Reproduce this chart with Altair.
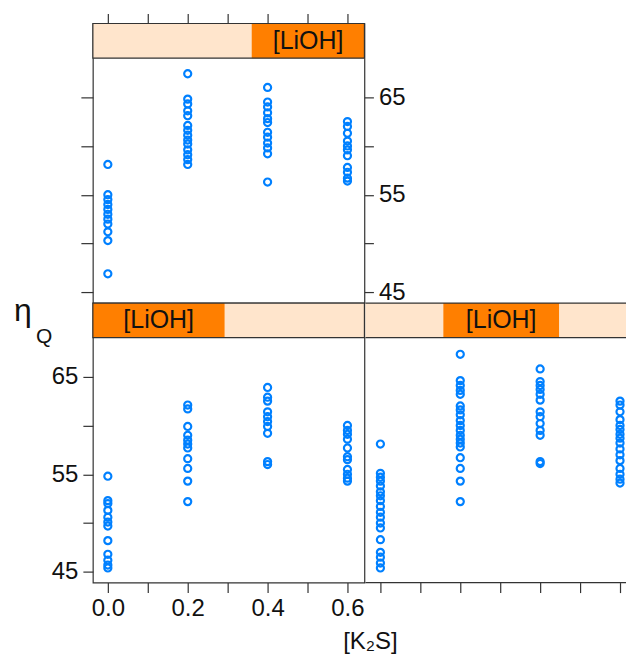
import altair as alt
import pandas as pd

# ---- data ----
k2s_levels = [0.0, 0.2, 0.4, 0.6]

# panel with the highest [LiOH] shingle (top-left)
high_k00 = [58.1, 55.0, 54.5, 54.0, 53.5, 53.0, 52.5, 52.0, 51.2, 50.3, 46.9]
high_k02 = [67.4, 64.8, 64.3, 63.6, 63.1, 62.1, 61.6, 61.1, 60.6, 60.2, 59.6, 59.1, 58.6, 58.1]
high_k04 = [66.0, 64.5, 64.0, 63.4, 62.8, 62.4, 61.4, 60.9, 60.3, 59.8, 59.2, 56.3]
high_k06 = [62.5, 62.0, 61.3, 60.5, 60.0, 59.6, 59.0, 57.8, 57.3, 56.7, 56.4]

# panel with the lowest [LiOH] shingle (bottom-left)
low_k00 = [54.8, 52.3, 52.0, 51.3, 50.6, 50.1, 49.7, 48.2, 46.8, 46.2, 45.7, 45.4]
low_k02 = [62.1, 61.7, 59.9, 59.0, 58.5, 58.1, 57.7, 56.6, 55.6, 54.3, 52.2]
low_k04 = [63.9, 62.9, 62.5, 61.4, 60.9, 60.4, 59.9, 59.2, 56.3, 56.0]
low_k06 = [60.0, 59.5, 59.1, 58.6, 57.7, 56.8, 56.5, 55.5, 55.0, 54.6, 54.3]

# panel with the middle [LiOH] shingle (bottom-right)
mid_k00 = [58.1, 55.1, 54.7, 54.3, 53.8, 53.2, 52.8, 52.3, 51.7, 51.1, 50.6, 50.0,
           49.5, 48.3, 47.0, 46.5, 45.9, 45.4]
mid_k02 = [67.3, 64.6, 64.1, 63.6, 63.2, 62.0, 61.6, 61.1, 60.5, 60.0, 59.5, 59.0,
           58.6, 58.2, 57.8, 56.7, 55.6, 54.3, 52.2]
mid_k04 = [65.8, 64.5, 64.1, 63.7, 63.2, 62.6, 61.4, 60.9, 60.2, 59.5, 59.0, 56.3, 56.1]
mid_k06 = [62.5, 62.1, 61.4, 60.6, 60.0, 59.6, 59.1, 58.7, 58.2, 57.6, 57.0, 56.4,
           55.6, 55.0, 54.5, 54.1]

# shingle intervals of [LiOH] (fraction of the strip) for each panel
shingle_names = ["high", "low", "mid"]
shingle_lo = [0.585, 0.0, 0.287]
shingle_hi = [1.0, 0.485, 0.713]

strip_label = "[LiOH]"
x_ticks = [0.0, 0.1, 0.2, 0.3, 0.4, 0.5, 0.6]
y_ticks = [45, 50, 55, 60, 65]

# ---- scales ----
X_MIN, X_MAX = -0.0375, 0.6425
Y_MIN, Y_MAX = 43.9, 69.0
STRIP_TOP = 72.55
PW, PH = 272, 280
PW_RIGHT = 261                      # right column is cut by the picture edge
X_MAX_RIGHT = X_MIN + (X_MAX - X_MIN) * PW_RIGHT / PW

FONT = "Liberation Sans"
INK = "#111111"
LINE = "#333333"
BLUE = "#0080ff"

ys = alt.Scale(domain=[Y_MIN, STRIP_TOP], nice=False, zero=False)


def points_df(cols):
    rows = []
    for k, vals in zip(k2s_levels, cols):
        for v in vals:
            rows.append({"k2s": k, "eta": v})
    return pd.DataFrame(rows)


def axis_x(orient, labels):
    kw = dict(orient=orient, values=x_ticks, tickSize=10, tickColor=LINE, tickWidth=1.2,
              domain=False, grid=False, title=None, labels=labels)
    if labels:
        kw.update(format=".1f", labelExpr="round(datum.value*10) % 2 == 0 ? datum.label : ''",
                  labelFont=FONT, labelFontSize=24, labelColor=INK, labelPadding=4)
    return alt.Axis(**kw)


def axis_y(orient, labels, tick=10):
    kw = dict(orient=orient, values=y_ticks, tickSize=tick, tickColor=LINE, tickWidth=1.2,
              domain=False, grid=False, title=None, labels=labels)
    if labels:
        kw.update(labelExpr="datum.value % 10 == 5 ? datum.label : ''",
                  labelFont=FONT, labelFontSize=24, labelColor=INK, labelPadding=5)
    return alt.Axis(**kw)


def strip_layers(i, xs, x_right, open_right=False):
    span = X_MAX - X_MIN
    sdf = pd.DataFrame({
        "xa": [X_MIN], "xb": [x_right], "ya": [Y_MAX], "yb": [STRIP_TOP],
        "lo": [X_MIN + shingle_lo[i] * span], "hi": [X_MIN + shingle_hi[i] * span],
        "label": [strip_label],
    })
    base = alt.Chart(sdf)
    bg = base.mark_rect(fill="#ffe5cc").encode(
        x=alt.X("xa:Q", scale=xs, axis=None), x2="xb:Q",
        y=alt.Y("ya:Q", scale=ys, axis=None), y2="yb:Q")
    fg = base.mark_rect(fill="#ff7f00").encode(
        x=alt.X("lo:Q", scale=xs, axis=None), x2="hi:Q",
        y=alt.Y("ya:Q", scale=ys, axis=None), y2="yb:Q")
    txt = base.transform_calculate(
        xm="(datum.lo + datum.hi) / 2", ym="(datum.ya + datum.yb) / 2"
    ).mark_text(font=FONT, fontSize=25, color=INK, baseline="middle", align="center").encode(
        x=alt.X("xm:Q", scale=xs, axis=None),
        y=alt.Y("ym:Q", scale=ys, axis=None),
        text="label:N")
    if not open_right:
        border = base.mark_rect(fillOpacity=0, stroke=LINE, strokeWidth=1.2).encode(
            x=alt.X("xa:Q", scale=xs, axis=None), x2="xb:Q",
            y=alt.Y("ya:Q", scale=ys, axis=None), y2="yb:Q")
        return [bg, fg, border, txt]
    # panel cut by the picture edge: lines on top and bottom of the strip only
    top_line = base.mark_rule(color=LINE, strokeWidth=1.2).encode(
        x=alt.X("xa:Q", scale=xs, axis=None), x2="xb:Q",
        y=alt.Y("yb:Q", scale=ys, axis=None))
    bot_line = base.mark_rule(color=LINE, strokeWidth=1.2).encode(
        x=alt.X("xa:Q", scale=xs, axis=None), x2="xb:Q",
        y=alt.Y("ya:Q", scale=ys, axis=None))
    return [bg, fg, top_line, bot_line, txt]


def pts_layer(df, xs, xaxis, yaxis, opacity=1.0):
    return alt.Chart(df).mark_point(
        shape="circle", filled=False, color=BLUE, strokeWidth=2.2, size=50, opacity=opacity
    ).encode(
        x=alt.X("k2s:Q", scale=xs, axis=xaxis),
        y=alt.Y("eta:Q", scale=ys, axis=yaxis),
    )


xs_full = alt.Scale(domain=[X_MIN, X_MAX], nice=False, zero=False)
xs_right = alt.Scale(domain=[X_MIN, X_MAX_RIGHT], nice=False, zero=False)

df_high = points_df([high_k00, high_k02, high_k04, high_k06])
df_low = points_df([low_k00, low_k02, low_k04, low_k06])
df_mid = points_df([mid_k00, mid_k02, mid_k04, mid_k06])

# top-left panel
top_left = alt.layer(
    *strip_layers(0, xs_full, X_MAX),
    pts_layer(df_high, xs_full, axis_x("top", False), axis_y("left", False, tick=12)),
    pts_layer(df_high, xs_full, None, axis_y("right", True, tick=9), opacity=0),
).resolve_axis(x="independent", y="independent").properties(width=PW, height=PH)

one = pd.DataFrame({"a": [0]})
eta_txt = alt.Chart(one).mark_text(text="η", font=FONT, fontSize=32, color=INK,
                                   align="left", baseline="alphabetic").encode(
    x=alt.value(-79), y=alt.value(18))
q_txt = alt.Chart(one).mark_text(text="Q", font=FONT, fontSize=21, color=INK,
                                 align="left", baseline="alphabetic").encode(
    x=alt.value(-57), y=alt.value(40))
xlab_txt = alt.Chart(one).mark_text(text="[K₂S]", font=FONT, fontSize=24, color=INK,
                                    align="center", baseline="alphabetic").encode(
    x=alt.value(278), y=alt.value(347))

bottom_left = alt.layer(
    *strip_layers(1, xs_full, X_MAX),
    pts_layer(df_low, xs_full, axis_x("bottom", True), axis_y("left", True)),
    eta_txt, q_txt, xlab_txt,
).resolve_axis(x="independent", y="independent").properties(width=PW, height=PH)

# bottom-right panel: its right edge is outside the picture, so only the bottom border
edge_df = pd.DataFrame({"xa": [X_MIN], "xb": [X_MAX_RIGHT], "ya": [Y_MIN]})
bottom_edge = alt.Chart(edge_df).mark_rule(color=LINE, strokeWidth=1.2).encode(
    x=alt.X("xa:Q", scale=xs_right, axis=None), x2="xb:Q",
    y=alt.Y("ya:Q", scale=ys, axis=None))

bottom_right = alt.layer(
    *strip_layers(2, xs_right, X_MAX_RIGHT, open_right=True),
    bottom_edge,
    pts_layer(df_mid, xs_right, axis_x("bottom", False), None),
).resolve_axis(x="independent", y="independent").properties(
    width=PW_RIGHT, height=PH, view=alt.ViewBackground(strokeOpacity=0))

chart = alt.vconcat(
    top_left,
    alt.hconcat(bottom_left, bottom_right, spacing=1, bounds="flush"),
    spacing=0, bounds="flush",
).configure_view(
    stroke=LINE, strokeWidth=1.2
).properties(
    padding={"left": 5, "top": 3, "right": 0, "bottom": 0},
    background="white",
)

chart.save("out.html", embed_options={"renderer": "svg", "actions": False})
